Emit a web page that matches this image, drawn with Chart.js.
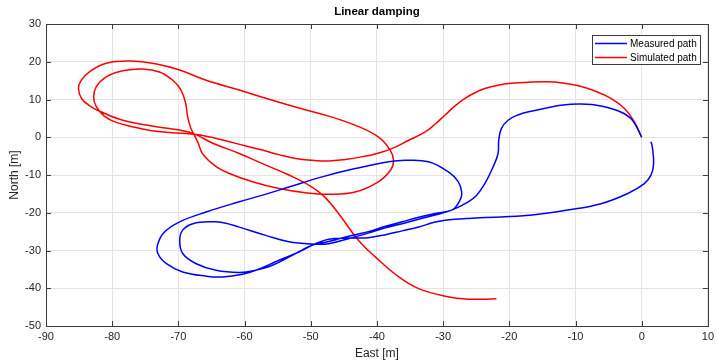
<!DOCTYPE html>
<html>
<head>
<meta charset="utf-8">
<script src="https://cdn.jsdelivr.net/npm/chart.js@4"></script>
<style>
  html, body { margin: 0; padding: 0; background: #fff; }
  #wrap { width: 718px; height: 364px; }
</style>
</head>
<body>
<div id="wrap"><canvas id="chart" width="718" height="364"></canvas></div>
<script>
// ---------------- DATA -----------------
const chartTitle = "Linear damping";
const xLabel = "East [m]";
const yLabel = "North [m]";
const seriesNames = ["Measured path", "Simulated path"];
const xTicks = [-90, -80, -70, -60, -50, -40, -30, -20, -10, 0, 10];
const yTicks = [-50, -40, -30, -20, -10, 0, 10, 20, 30];

// measured path (blue)
const measuredEast = [
  0, -1.4, -3.15, -6.15, -9.2, -12.2, -14.2, -16.7, -18.7, -20.2, -21.2, -21.6, -21.7, -22.45, -23.7, -25.0, -26.2, -28.7,
  -31.2, -33.7, -36.2, -38.7, -41.3, -43.8, -47.3, -49.8, -53.3, -56.8, -60.8, -63, -64.8, -67.8, -69.35, -69.8, -69.35,
  -67.3, -64.3, -60.8, -58.5, -55.8, -52.3, -49.8, -47.3, -43.8, -41.3, -38.7, -36.2, -33.7, -31.2, -28.7,
  -27.9, -27.3, -27.2, -27.7, -29.2, -32.2, -35.7, -38.25, -43.3, -48.3, -53.3, -57, -60.8, -65.8, -69.8, -72.1,
  -73.1, -73.1, -71.8, -69.35, -65.8, -63.3, -60.3, -58.3, -54.8, -51.8, -49.3, -47.3, -44.5, -41.3, -38.7, -36.2,
  -33.7, -31.5, -29.7, -26.2, -21.2, -16.2, -11.2, -6.15, -2.1, 0.4, 1.4, 1.8, 1.6, 1.4
];
const measuredNorth = [
  0, 4.5, 6.7, 8.3, 8.8, 8.5, 7.8, 6.9, 5.9, 4.5, 2.3, -0.8, -4.3, -7.85, -12.3, -15.5, -17.1, -19.3,
  -20.6, -21.7, -22.9, -24.0, -25.4, -26.6, -28.2, -28.3, -27.7, -26.0, -23.8, -22.7, -22.4, -22.9, -24.6, -27.3, -30.8,
  -33.5, -35.25, -35.8, -35.3, -33.9, -30.8, -28.6, -27.6, -26.0, -25.0, -23.6, -22.4, -21.2, -20.2, -19.3,
  -18.0, -16.0, -14.5, -11.8, -9.2, -6.5, -6.1, -6.5, -8.3, -10.5, -13.2, -15.2, -17.1, -19.8, -22.4, -25.1,
  -28.2, -30.8, -33.5, -35.7, -36.8, -37.0, -36.3, -35.25, -32.6, -30.4, -28.2, -27.0, -26.7, -26.6, -25.8, -24.8,
  -23.8, -22.6, -22.0, -21.5, -21.1, -20.5, -19.3, -17.6, -14.9, -12.3, -10.05, -7.0, -2.5, -1.2
];

// simulated path (red)
const simulatedEast = [
  0, -1.1, -2.6, -4.65, -7.15, -9.7, -12, -14.2, -17, -19.7, -21.7, -23.7, -25.2, -26.7, -28.2, -29.7, -31.2, -32.7,
  -35.2, -37.75, -40, -42.3, -44.8, -47.3, -49.8, -52.3, -54.8, -57.3, -59.8, -62.3, -65, -67.6,
  -71, -74, -77, -79.5, -81.2, -82.4, -82.8, -82.4, -80.9, -78.4, -75.4, -72.85, -70.85, -69.6, -68.9, -68.6, -68.1, -67.6,
  -67.0, -66.3, -64.3, -62.3, -58.8, -54.8, -50.8, -47.3, -43.3, -39.8, -37.9, -37.5, -38.0, -39.8, -43.3, -47.3,
  -51.5, -55.8, -60.8, -65.8, -69.8, -73.3, -77.4, -80.9, -83.4, -84.7, -85.1, -84.6, -83.3, -81.9, -78.4, -73.3, -69.8, -67.6,
  -64.8, -60.8, -57.3, -53.3, -49.8, -47.8, -45.8, -42.8, -40.25, -36.7, -33.7, -29.7, -26.2, -21.95
];
const simulatedNorth = [
  0, 4.1, 7.6, 10.3, 12.3, 13.7, 14.4, 14.7, 14.6, 14.3, 13.8, 12.9, 11.8, 10.3, 8.3, 5.9, 3.5, 1.4,
  -0.8, -3.0, -4.3, -5.2, -5.9, -6.3, -6.1, -5.6, -4.6, -3.4, -2.3, -1.2, 0, 0.8,
  1.2, 1.7, 2.8, 4.0, 5.6, 8.1, 10.7, 13.4, 16.0, 17.6, 18.1, 17.3, 15.1, 12.5, 9.0, 5.4, 2.3, 0.6,
  -1.6, -4.5, -7.8, -9.6, -11.8, -13.6, -14.7, -15.1, -14.5, -11.8, -8.6, -6.1, -3.4, 0.1, 3.2, 5.6,
  7.6, 9.8, 12.5, 15.1, 17.8, 19.4, 20.2, 19.6, 17.4, 15.0, 12.9, 10.2, 8.2, 6.9, 4.5, 2.8, 1.9, 0.9,
  -1.6, -4.3, -7.0, -10.0, -13.2, -16.0, -20.2, -27.3, -31.7, -37.0, -40.1, -42.1, -42.9, -42.8
];

// ---------------- HELPERS -----------------
function toPoints(xs, ys) {
  return xs.map((x, i) => ({ x: x, y: ys[i] }));
}

const FONT = "'Liberation Sans', Arial, Helvetica, sans-serif";
const AXIS_COLOR = "#3c3c3c";
const TEXT_COLOR = "#262626";
const LINE_COLORS = ["#0000ff", "#ff0000"];

// MATLAB-like box, inward ticks, title and legend
const matlabAxes = {
  id: "matlabAxes",
  afterDatasetsDraw(chart) {
    const { ctx, chartArea: a, scales } = chart;
    ctx.save();
    ctx.strokeStyle = AXIS_COLOR;
    ctx.lineWidth = 1;
    ctx.strokeRect(Math.round(a.left) + 0.5, Math.round(a.top) + 0.5,
      Math.round(a.right - a.left), Math.round(a.bottom - a.top));

    ctx.beginPath();
    xTicks.forEach(v => {
      const px = Math.round(scales.x.getPixelForValue(v)) + 0.5;
      ctx.moveTo(px, a.bottom); ctx.lineTo(px, a.bottom - 5);
      ctx.moveTo(px, a.top); ctx.lineTo(px, a.top + 5);
    });
    yTicks.forEach(v => {
      const py = Math.round(scales.y.getPixelForValue(v)) + 0.5;
      ctx.moveTo(a.left, py); ctx.lineTo(a.left + 5, py);
      ctx.moveTo(a.right, py); ctx.lineTo(a.right - 5, py);
    });
    ctx.stroke();

    // title
    ctx.fillStyle = "#000";
    ctx.font = "bold 11.5px " + FONT;
    ctx.textAlign = "center";
    ctx.textBaseline = "middle";
    ctx.fillText(chartTitle, (a.left + a.right) / 2, 12);

    // legend
    const lx = 592, ly = 35, lw = 108, lh = 29;
    ctx.fillStyle = "#fff";
    ctx.fillRect(lx, ly, lw, lh);
    ctx.strokeStyle = AXIS_COLOR;
    ctx.strokeRect(lx + 0.5, ly + 0.5, lw, lh);
    ctx.font = "10px " + FONT;
    ctx.textAlign = "left";
    seriesNames.forEach((name, i) => {
      const yy = ly + 8.5 + i * 14;
      ctx.strokeStyle = LINE_COLORS[i];
      ctx.lineWidth = 1.5;
      ctx.beginPath();
      ctx.moveTo(lx + 3, yy); ctx.lineTo(lx + 35, yy);
      ctx.stroke();
      ctx.fillStyle = "#000";
      ctx.fillText(name, lx + 38, yy + 0.5);
    });
    ctx.restore();
  }
};

// ---------------- CHART -----------------
new Chart(document.getElementById("chart"), {
  type: "scatter",
  data: {
    datasets: [
      {
        label: seriesNames[0],
        data: toPoints(measuredEast, measuredNorth),
        showLine: true,
        borderColor: LINE_COLORS[0],
        borderWidth: 1.5,
        pointRadius: 0,
        tension: 0.4
      },
      {
        label: seriesNames[1],
        data: toPoints(simulatedEast, simulatedNorth),
        showLine: true,
        borderColor: LINE_COLORS[1],
        borderWidth: 1.5,
        pointRadius: 0,
        tension: 0.4
      }
    ]
  },
  options: {
    responsive: false,
    animation: false,
    devicePixelRatio: 1,
    layout: { padding: { top: 24, right: 7, left: 0, bottom: 0 } },
    plugins: {
      legend: { display: false },
      title: { display: false },
      tooltip: { enabled: false }
    },
    scales: {
      x: {
        type: "linear",
        min: -90,
        max: 10,
        afterBuildTicks: s => { s.ticks = xTicks.map(v => ({ value: v })); },
        afterFit: s => { s.height = 38; },
        ticks: { color: TEXT_COLOR, font: { family: FONT, size: 11 }, padding: 4, maxRotation: 0 },
        grid: { color: "#e4e4e4", drawTicks: false },
        border: { display: false },
        title: { display: true, text: xLabel, color: TEXT_COLOR, font: { family: FONT, size: 12 }, padding: { top: 0, bottom: 3 } }
      },
      y: {
        type: "linear",
        min: -50,
        max: 30,
        afterBuildTicks: s => { s.ticks = yTicks.map(v => ({ value: v })); },
        afterFit: s => { s.width = 46; },
        ticks: { color: TEXT_COLOR, font: { family: FONT, size: 11 }, padding: 5 },
        grid: { color: "#e4e4e4", drawTicks: false },
        border: { display: false },
        title: { display: true, text: yLabel, color: TEXT_COLOR, font: { family: FONT, size: 12 }, padding: { top: 7, bottom: 0 } }
      }
    }
  },
  plugins: [matlabAxes]
});
</script>
</body>
</html>
